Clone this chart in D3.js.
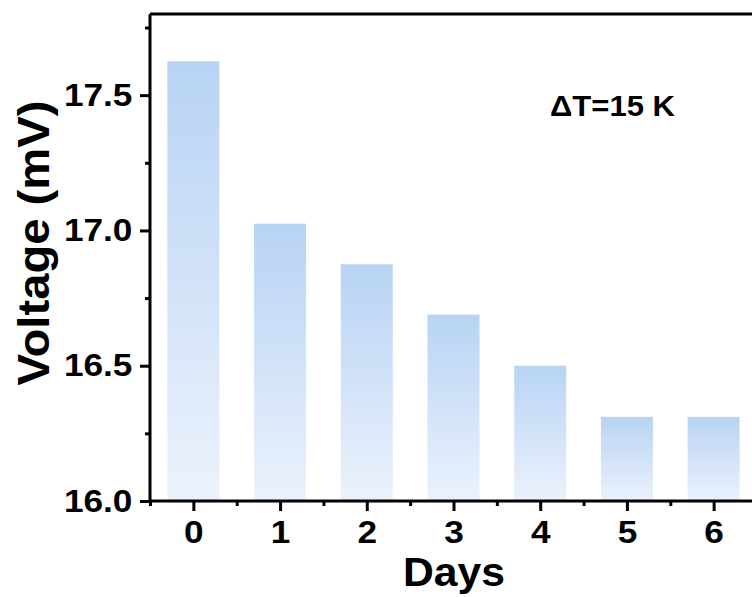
<!DOCTYPE html>
<html>
<head>
<meta charset="utf-8">
<script src="https://cdn.jsdelivr.net/npm/d3@7"></script>
<style>
    body { margin: 0; background: #fff; }
    svg text { font-family: "Liberation Sans", Arial, sans-serif; font-weight: bold; fill: #000; }
</style>
</head>
<body>
<div id="chart"></div>
<script>
// chart data
var days = [0, 1, 2, 3, 4, 5, 6];
var voltage = [17.625, 17.025, 16.875, 16.689, 16.5, 16.311, 16.311];
var yTicks = [16.0, 16.5, 17.0, 17.5];
var yMinorTicks = [16.25, 16.75, 17.25, 17.75];
var xMinorTicks = [-0.5, 0.5, 1.5, 2.5, 3.5, 4.5, 5.5];

var width = 752, height = 597;
var plotLeft = 150, plotRight = 757, plotTop = 14, plotBottom = 501;

var svg = d3.select("#chart").append("svg")
    .attr("width", width)
    .attr("height", height);

var xScale = d3.scaleLinear().domain([-0.5, 6.5]).range([plotLeft, plotRight]);
var yScale = d3.scaleLinear().domain([16, 17.8]).range([plotBottom, plotTop]);

// gradient fill for the bars
var grad = svg.append("defs").append("linearGradient")
    .attr("id", "barFill")
    .attr("x1", 0).attr("y1", 0).attr("x2", 0).attr("y2", 1);
grad.append("stop").attr("offset", "0%").attr("stop-color", "#b8d3f4");
grad.append("stop").attr("offset", "100%").attr("stop-color", "#ecf2fc");

// bars
svg.selectAll("rect.bar")
    .data(days)
    .enter().append("rect")
    .attr("class", "bar")
    .attr("x", function(d) { return xScale(d - 0.3); })
    .attr("width", function(d) { return xScale(d + 0.3) - xScale(d - 0.3); })
    .attr("y", function(d, i) { return yScale(voltage[i]); })
    .attr("height", function(d, i) { return plotBottom - yScale(voltage[i]); })
    .attr("fill", "url(#barFill)");

// frame top line
svg.append("line")
    .attr("x1", plotLeft).attr("x2", plotRight)
    .attr("y1", plotTop).attr("y2", plotTop)
    .attr("stroke", "#000").attr("stroke-width", 3);

// y axis, major + minor ticks
var yAxis = svg.append("g")
    .attr("transform", "translate(" + plotLeft + ",0)")
    .call(d3.axisLeft(yScale).tickValues(yTicks).tickFormat(d3.format(".1f")).tickSize(10).tickPadding(6));
svg.append("g")
    .attr("transform", "translate(" + plotLeft + ",0)")
    .call(d3.axisLeft(yScale).tickValues(yMinorTicks).tickFormat("").tickSize(5))
    .select(".domain").remove();

// x axis, major + minor ticks
var xAxis = svg.append("g")
    .attr("transform", "translate(0," + plotBottom + ")")
    .call(d3.axisBottom(xScale).tickValues(days).tickFormat(d3.format("d")).tickSize(10).tickPadding(9));
svg.append("g")
    .attr("transform", "translate(0," + plotBottom + ")")
    .call(d3.axisBottom(xScale).tickValues(xMinorTicks).tickFormat("").tickSize(5))
    .select(".domain").remove();

// style axes (the original font runs a bit wider than Liberation, so stretch a little)
svg.selectAll(".domain").attr("stroke", "#000").attr("stroke-width", 3);
svg.selectAll(".tick line").attr("stroke", "#000").attr("stroke-width", 3);
svg.selectAll(".tick text")
    .style("font-size", "32px")
    .attr("transform", "scale(1.1,1)");
yAxis.select(".domain").attr("d", "M0," + plotTop + "V" + plotBottom);
xAxis.select(".domain").attr("d", "M" + plotLeft + ",0H" + plotRight);

// axis titles
svg.append("text")
    .attr("x", 454)
    .attr("y", 586)
    .attr("text-anchor", "middle")
    .attr("textLength", 102)
    .attr("lengthAdjust", "spacingAndGlyphs")
    .style("font-size", "40px")
    .text("Days");

svg.append("text")
    .attr("transform", "translate(49,243) rotate(-90)")
    .attr("text-anchor", "middle")
    .attr("textLength", 285)
    .attr("lengthAdjust", "spacingAndGlyphs")
    .style("font-size", "44px")
    .text("Voltage (mV)");

// annotation
svg.append("text")
    .attr("x", 550)
    .attr("y", 116)
    .attr("textLength", 125)
    .attr("lengthAdjust", "spacingAndGlyphs")
    .style("font-size", "30px")
    .text("\u0394T=15 K");
</script>
</body>
</html>
